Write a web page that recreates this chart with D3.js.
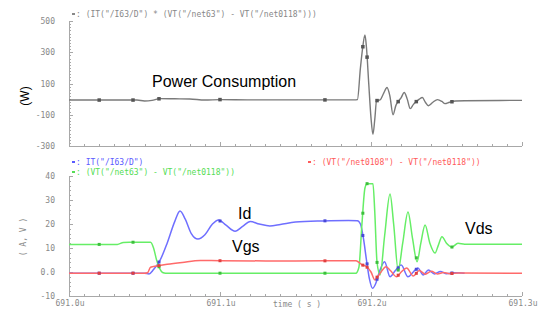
<!DOCTYPE html>
<html><head><meta charset="utf-8">
<script src="https://cdn.jsdelivr.net/npm/d3@7"></script>
<style>
html,body{margin:0;padding:0;background:#fff;}
svg{display:block;}
.sm{font-family:"DejaVu Sans Mono",monospace;font-size:8px;}
</style></head>
<body><svg id="c" width="538" height="320"></svg>
<script>
// time in ns after 691.0u
const xTickValues = [0, 100, 200, 300];
const xTickLabels = ["691.0u", "691.1u", "691.2u", "691.3u"];
const topTickValues = [500, 300, 100, -100, -300];
const topTickLabels = ["500", "300", "100", "-100", "-300"];
const botTickValues = [40, 30, 20, 10, 0, -10];
const botTickLabels = ["40", "30", "20", "10", "0.0", "-10"];
const markerTimes = [20, 42.4, 59.6, 100, 169.5, 194.6, 197.4, 204, 218, 230, 253.6];

// Power consumption (W)
const power = [[0,-6],[45,-6],[50,-12],[55,-8],[60,3],[70,2],[80,1],[90,-6],[100,-3],[120,-5],[189,-5],
  [191,-3],[193,200],[194.5,330],[196,410],[197,330],[198.5,100],[200,-120],[201.3,-225],[202.5,-130],
  [203.7,-10],[206,-5],[208.5,40],[210.6,74],[212.5,20],[214.6,-100],[216.5,-40],[218,-16],[220,10],
  [222,42],[224,0],[226,-61],[228,-35],[230,-16],[232,0],[234,10],[236,-20],[238,-42],[241,-20],
  [244,-3],[247,-15],[249,-29],[252,-20],[256,-12],[262,-10],[300,-8]];
// Id (A)
const idSeries = [[0,-0.5],[50,-0.5],[53,-0.8],[56,1],[60,4.5],[65,12],[70,21],[73.5,25.4],[77,22],[81,16],
  [85.4,13.7],[90,15.5],[95,20],[99,21.7],[104,19.5],[110,17],[115,19],[120,21],[126,20],[133,19.2],
  [140,19.8],[150,20.8],[168,21.3],[185,21.5],[191,21.4],[193,20],[195,14],[197,5],[199,-3],[201,-6.8],
  [203,-5],[205.5,0],[209,4.3],[212.6,-2],[216,0.5],[220,2.9],[224.5,-2],[228,0],[231,1.7],[234.6,-1.25],
  [238,0.8],[242,-0.8],[246,0.2],[250,-0.7],[255,-0.3],[262,-0.5]];
// Vds (V)
const vdsSeries = [[0,11.5],[32,11.5],[36,12.3],[40,12.4],[54,12.4],[56,10],[58,5],[60,1.5],[62,-0.2],
  [64,-0.5],[190,-0.5],[192,2],[194,20],[196,35],[197.4,36.8],[201.3,36.8],[202.5,25],[204,4],
  [206,-1.2],[209,15],[212.6,32.5],[215,20],[218,0.8],[221,12],[224.5,25],[227.5,14],[230.5,4.3],
  [233,12],[235.8,19.6],[239,12],[242.4,7.9],[244.5,11],[247,14.7],[250,12],[253.6,10.4],
  [257.6,12],[262,11.6],[300,11.6]];
// Vgs (V)
const vgsSeries = [[0,-0.5],[50,-0.5],[52,-0.3],[54,2],[58,2.5],[65,3.2],[75,4],[87,4.8],[100,4.7],
  [150,4.6],[190,4.7],[192,4],[194,3],[197,2.3],[200,0],[202.6,-3.3],[206,-0.5],[210,2.2],[213,0.5],
  [217,-2],[220,0],[223.6,1.7],[228,-1.7],[232,0.6],[236,-0.9],[240,0.3],[244,-0.8],[248,-0.2],
  [252,-0.7],[258,-0.4],[300,-0.5]];

const svg = d3.select("#c");
const x = d3.scaleLinear().domain([0, 300]).range([69, 522]);
const yTop = d3.scaleLinear().domain([-300, 500]).range([146, 21]);
const yBot = d3.scaleLinear().domain([-10, 40]).range([296, 176]);
const axisCol = "#a8a8a8", labCol = "#888";

function interp(series, t) {
  for (let i = 0; i < series.length - 1; i++) {
    const a = series[i], b = series[i + 1];
    if (t >= a[0] && t <= b[0]) return a[1] + (b[1] - a[1]) * (t - a[0]) / (b[0] - a[0]);
  }
  return series[series.length - 1][1];
}

function frame(y, yMin, yMax, minorStep, majorVals, majorLabels, showX) {
  const g = svg.append("g");
  const y0 = y(yMin), y1 = y(yMax);
  g.append("line").attr("x1", x(0)).attr("x2", x(0)).attr("y1", y0).attr("y2", y1)
    .attr("stroke", axisCol).attr("shape-rendering", "crispEdges");
  g.append("line").attr("x1", x(0)).attr("x2", x(300)).attr("y1", y0 + 0.5).attr("y2", y0 + 0.5)
    .attr("stroke", axisCol);
  for (let v = yMin; v <= yMax + 1e-9; v += minorStep) {
    const major = majorVals.some(m => Math.abs(m - v) < 1e-6);
    g.append("line").attr("x1", x(0)).attr("x2", x(0) + (major ? 4 : 2))
      .attr("y1", Math.round(y(v)) + 0.5).attr("y2", Math.round(y(v)) + 0.5).attr("stroke", axisCol);
  }
  majorVals.forEach((v, i) => {
    g.append("text").attr("class", "sm").attr("x", 55).attr("y", y(v) + 3)
      .attr("text-anchor", "end").attr("fill", labCol).text(majorLabels[i]);
  });
  for (let t = 0; t <= 300; t += 10) {
    const major = t % 100 === 0;
    g.append("line").attr("x1", Math.round(x(t)) + 0.5).attr("x2", Math.round(x(t)) + 0.5)
      .attr("y1", y0).attr("y2", y0 - (major ? 4 : 2)).attr("stroke", axisCol);
  }
  if (showX) {
    xTickValues.forEach((v, i) => {
      g.append("text").attr("class", "sm").attr("x", x(v) + 1).attr("y", y0 + 10)
        .attr("text-anchor", "middle").attr("fill", labCol).text(xTickLabels[i]);
    });
  }
}

frame(yTop, -300, 500, 20, topTickValues, topTickLabels, false);
frame(yBot, -10, 40, 2, botTickValues, botTickLabels, true);

function drawLine(series, y, color, w) {
  const line = d3.line().x(d => x(d[0])).y(d => y(d[1])).curve(d3.curveMonotoneX);
  svg.append("path").datum(series).attr("d", line).attr("fill", "none")
    .attr("stroke", color).attr("stroke-width", w).attr("stroke-linejoin", "round");
}
function drawMarkers(series, y, color, s) {
  const tMax = series[series.length - 1][0];
  svg.append("g").selectAll("rect").data(markerTimes.filter(t => t <= tMax)).join("rect")
    .attr("x", t => x(t) - s / 2).attr("y", t => y(interp(series, t)) - s / 2)
    .attr("width", s).attr("height", s).attr("fill", color);
}

drawLine(power, yTop, "#7a7a7a", 1.4);
drawMarkers(power, yTop, "#555", 3.5);

drawLine(idSeries, yBot, "#6f6fff", 1.5);
drawLine(vdsSeries, yBot, "#66ee66", 1.5);
drawLine(vgsSeries, yBot, "#ff6a6a", 1.5);
drawMarkers(idSeries, yBot, "#4848d8", 3);
drawMarkers(vdsSeries, yBot, "#3cbf3c", 3);
drawMarkers(vgsSeries, yBot, "#e04040", 3);

function legend(xp, yp, color, txt) {
  svg.append("rect").attr("x", xp).attr("y", yp - 4).attr("width", 3).attr("height", 2).attr("fill", color);
  svg.append("text").attr("class", "sm").attr("x", xp + 4).attr("y", yp).attr("fill", color).text(txt);
}
legend(72, 17, "#888", ': (IT("/I63/D") * (VT("/net63") - VT("/net0118")))');
legend(72, 165, "#5a5aff", ': IT("/I63/D")');
legend(72, 175, "#55dd55", ': (VT("/net63") - VT("/net0118"))');
legend(308, 165, "#ff5a5a", ': (VT("/net0108") - VT("/net0118"))');

const big = "Liberation Sans, Arial, sans-serif";
svg.append("text").attr("x", 152).attr("y", 87).attr("font-family", big)
  .attr("font-size", 16).attr("fill", "#000").text("Power Consumption");
svg.append("text").attr("x", 238).attr("y", 219).attr("font-family", big)
  .attr("font-size", 16).attr("fill", "#000").text("Id");
svg.append("text").attr("x", 232).attr("y", 252).attr("font-family", big)
  .attr("font-size", 16).attr("fill", "#000").text("Vgs");
svg.append("text").attr("x", 465).attr("y", 234).attr("font-family", big)
  .attr("font-size", 16).attr("fill", "#000").text("Vds");

svg.append("text").attr("transform", "translate(29,96) rotate(-90)").attr("text-anchor", "middle")
  .attr("font-family", big).attr("font-size", 12).attr("fill", "#000").text("(W)");
svg.append("text").attr("class", "sm").attr("transform", "translate(26,237) rotate(-90)").attr("text-anchor", "middle")
  .attr("fill", labCol).text("( A, V )");
svg.append("text").attr("class", "sm").attr("x", 273).attr("y", 307).attr("fill", labCol).text("time ( s )");
</script></body></html>
